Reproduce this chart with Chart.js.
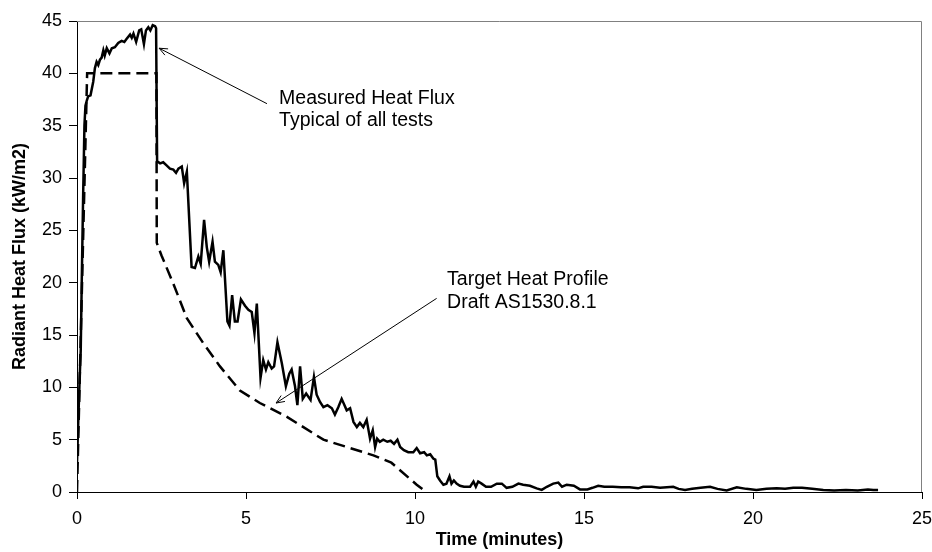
<!DOCTYPE html>
<html>
<head>
<meta charset="utf-8">
<script src="https://cdn.jsdelivr.net/npm/chart.js@4/dist/chart.umd.min.js"></script>
<style>
  body { margin: 0; background: #fff; }
  canvas { display: block; }
</style>
</head>
<body>
<canvas id="flux-chart" width="932" height="552"></canvas>
<script>
// measured heat flux (time in minutes, kW/m2)
const measuredTime = [
  0, 0.04, 0.08, 0.11, 0.14, 0.18, 0.22, 0.25, 0.29, 0.33, 0.4, 0.48, 0.53, 0.58, 0.63, 0.68,
  0.73, 0.78, 0.82, 0.88, 0.96, 1.03, 1.12, 1.22, 1.32, 1.4, 1.47, 1.57, 1.62, 1.67, 1.75, 1.84,
  1.9, 1.98, 2.04, 2.11, 2.17, 2.24, 2.31, 2.34, 2.37, 2.46, 2.55, 2.65, 2.75, 2.85, 2.93, 3.0,
  3.1, 3.17, 3.25, 3.39, 3.49, 3.59, 3.66, 3.76, 3.84, 3.91, 4.01, 4.08, 4.18, 4.25, 4.33, 4.45,
  4.51, 4.59, 4.67, 4.75, 4.85, 4.97, 5.07, 5.17, 5.25, 5.32, 5.43, 5.51, 5.59, 5.66, 5.76, 5.83,
  5.93, 6.06, 6.18, 6.28, 6.35, 6.45, 6.52, 6.6, 6.68, 6.78, 6.91, 7.01, 7.09, 7.19, 7.29, 7.41,
  7.54, 7.63, 7.73, 7.83, 7.98, 8.08, 8.18, 8.28, 8.37, 8.47, 8.57, 8.67, 8.75, 8.82, 8.88, 8.96,
  9.06, 9.18, 9.28, 9.38, 9.48, 9.56, 9.67, 9.8, 9.95, 10.05, 10.15, 10.27, 10.35, 10.45, 10.54, 10.6,
  10.66, 10.74, 10.84, 10.93, 11.02, 11.08, 11.15, 11.23, 11.33, 11.45, 11.63, 11.73, 11.8, 11.87, 11.97, 12.1,
  12.25, 12.42, 12.57, 12.71, 12.88, 13.06, 13.2, 13.4, 13.6, 13.75, 13.9, 14.09, 14.24, 14.35, 14.49, 14.7,
  14.88, 15.1, 15.25, 15.42, 15.6, 15.85, 16.1, 16.35, 16.6, 16.75, 17.0, 17.25, 17.45, 17.64, 17.8, 17.99,
  18.2, 18.45, 18.73, 18.95, 19.22, 19.52, 19.8, 20.1, 20.4, 20.7, 20.95, 21.19, 21.45, 21.75, 22.08, 22.4,
  22.75, 23.1, 23.4, 23.56, 23.7
];
const measuredFlux = [
  2.7, 7, 11, 13.5, 20, 28, 35, 36.9, 37.4, 37.8, 37.9, 39.2, 40.5, 41.1, 40.8, 41.3,
  41.5, 42.2, 41.7, 42.4, 41.9, 42.4, 42.5, 42.9, 43.1, 43.0, 43.3, 43.7, 43.4, 43.8, 43.0, 44.1,
  44.2, 42.8, 44.1, 44.4, 44.1, 44.6, 44.5, 44.3, 31.6, 31.4, 31.5, 31.2, 30.9, 30.8, 30.5, 30.9,
  31.1, 29.5, 30.6, 21.5, 21.4, 22.5, 21.8, 26.0, 23.4, 22.0, 23.9, 22.0, 21.7, 21.0, 23.1, 16.3,
  15.9, 18.8, 16.3, 16.3, 18.4, 17.8, 17.4, 17.2, 15.2, 18.0, 10.9, 12.6, 11.7, 12.4, 11.8, 12.0,
  14.3, 12.3, 10.1, 11.3, 11.7, 10.1, 8.3, 12.0, 8.9, 9.4, 8.8, 11.0, 9.3, 8.6, 8.1, 8.3,
  8.0, 7.4, 8.1, 8.9, 7.8, 8.0, 6.7, 6.2, 6.6, 6.2, 6.9, 5.1, 5.9, 4.3, 5.1, 4.8,
  5.0, 4.8, 4.9, 4.6, 5.0, 4.3, 4.0, 3.8, 3.8, 4.2, 3.7, 3.8, 3.5, 3.6, 3.2, 3.1,
  1.5, 1.1, 0.7, 0.8, 1.5, 0.8, 1.1, 0.8, 0.6, 0.5, 0.5, 1.0, 0.5, 1.0, 0.8, 0.5,
  0.5, 0.8, 0.8, 0.4, 0.5, 0.8, 0.7, 0.6, 0.35, 0.2, 0.5, 0.8, 0.9, 0.5, 0.7, 0.6,
  0.25, 0.25, 0.4, 0.6, 0.5, 0.5, 0.45, 0.45, 0.35, 0.5, 0.5, 0.4, 0.45, 0.5, 0.3, 0.2,
  0.3, 0.4, 0.5, 0.3, 0.15, 0.45, 0.3, 0.2, 0.3, 0.35, 0.3, 0.4, 0.4, 0.3, 0.2, 0.15,
  0.2, 0.15, 0.25, 0.2, 0.2
];

// target heat profile, draft AS1530.8.1
const targetTime = [0, 0.3, 2.35, 2.36, 2.5, 2.85, 3.25, 3.74, 4.23, 4.82, 5.41, 6.2, 6.6, 7.29, 7.98, 8.77, 9.3, 10.05, 10.33];
const targetFlux = [0, 40, 40, 23.8, 22.6, 19.9, 16.6, 14.2, 12.0, 9.7, 8.5, 7.2, 6.4, 5.0, 4.3, 3.5, 2.8, 0.7, 0];

const xTicks = [0, 5, 10, 15, 20, 25];
const yTicks = [0, 5, 10, 15, 20, 25, 30, 35, 40, 45];

// callouts: text anchor and arrow tail/tip, in data units
const notes = [
  { lines: ['Measured Heat Flux', 'Typical of all tests'], at: [5.98, 37.6], tail: [5.62, 37.1], tip: [2.43, 42.4] },
  { lines: ['Target Heat Profile', 'Draft AS1530.8.1'], at: [10.95, 20.25], tail: [10.64, 18.5], tip: [5.89, 8.5] }
];

const FONT = "'Liberation Sans', Arial, sans-serif";
Chart.defaults.font.family = FONT;
Chart.defaults.color = '#000';

function toPoints(xs, ys) {
  return xs.map((x, i) => ({ x: x, y: ys[i] }));
}

function arrow(ctx, x1, y1, x2, y2) {
  let a = Math.atan2(y2 - y1, x2 - x1);
  let len = 9, spread = 0.4;
  ctx.beginPath();
  ctx.moveTo(x1, y1);
  ctx.lineTo(x2, y2);
  ctx.moveTo(x2 - len * Math.cos(a - spread), y2 - len * Math.sin(a - spread));
  ctx.lineTo(x2, y2);
  ctx.lineTo(x2 - len * Math.cos(a + spread), y2 - len * Math.sin(a + spread));
  ctx.stroke();
}

const extras = {
  id: 'extras',
  beforeDatasetsDraw(chart) {
    // light frame on top and right of the plot
    let { ctx, chartArea: a } = chart;
    ctx.save();
    ctx.strokeStyle = '#808080';
    ctx.lineWidth = 1;
    ctx.beginPath();
    ctx.moveTo(a.left, a.top + 0.5);
    ctx.lineTo(a.right - 0.5, a.top + 0.5);
    ctx.lineTo(a.right - 0.5, a.bottom);
    ctx.stroke();
    ctx.restore();
  },
  afterDatasetsDraw(chart) {
    let ctx = chart.ctx;
    let xs = chart.scales.x, ys = chart.scales.y;
    ctx.save();
    ctx.strokeStyle = '#000';
    ctx.fillStyle = '#000';
    ctx.lineWidth = 1;
    ctx.font = '19.5px ' + FONT;
    ctx.textBaseline = 'middle';
    ctx.textAlign = 'left';
    notes.forEach(n => {
      arrow(ctx, xs.getPixelForValue(n.tail[0]), ys.getPixelForValue(n.tail[1]),
        xs.getPixelForValue(n.tip[0]), ys.getPixelForValue(n.tip[1]));
      let tx = xs.getPixelForValue(n.at[0]);
      let ty = ys.getPixelForValue(n.at[1]);
      n.lines.forEach((t, i) => ctx.fillText(t, tx, ty + i * 22.5));
    });
    ctx.restore();
  }
};

new Chart(document.getElementById('flux-chart'), {
  type: 'line',
  data: {
    datasets: [
      {
        label: 'Measured Heat Flux',
        data: toPoints(measuredTime, measuredFlux),
        borderColor: '#000',
        borderWidth: 2.5,
        pointRadius: 0,
        tension: 0
      },
      {
        label: 'Target Heat Profile',
        data: toPoints(targetTime, targetFlux),
        borderColor: '#000',
        borderWidth: 2.5,
        borderDash: [12, 6],
        pointRadius: 0,
        tension: 0
      }
    ]
  },
  options: {
    responsive: false,
    animation: false,
    layout: { padding: { top: 21, right: 10, left: 0, bottom: 0 } },
    plugins: { legend: { display: false }, tooltip: { enabled: false } },
    scales: {
      x: {
        type: 'linear',
        min: 0,
        max: 25,
        afterBuildTicks: s => { s.ticks = xTicks.map(v => ({ value: v })); },
        afterFit: s => { s.height = 60; s.paddingLeft = 0; s.paddingRight = 0; },
        ticks: { font: { size: 18 }, padding: 9, maxRotation: 0 },
        grid: { drawOnChartArea: false, drawTicks: true, tickLength: 7, color: '#000' },
        border: { color: '#000', width: 1 },
        title: { display: true, text: 'Time (minutes)', font: { size: 18, weight: 'bold' }, padding: { top: 0, bottom: 1 } }
      },
      y: {
        min: 0,
        max: 45,
        afterBuildTicks: s => { s.ticks = yTicks.map(v => ({ value: v })); },
        afterFit: s => { s.width = 77; s.paddingTop = 0; s.paddingBottom = 0; },
        ticks: { font: { size: 18 }, padding: 7 },
        grid: { drawOnChartArea: false, drawTicks: true, tickLength: 8, color: '#000' },
        border: { color: '#000', width: 1 },
        title: { display: true, text: 'Radiant Heat Flux (kW/m2)', font: { size: 18, weight: 'bold' }, padding: { top: 9, bottom: 0 } }
      }
    }
  },
  plugins: [extras]
});
</script>
</body>
</html>
